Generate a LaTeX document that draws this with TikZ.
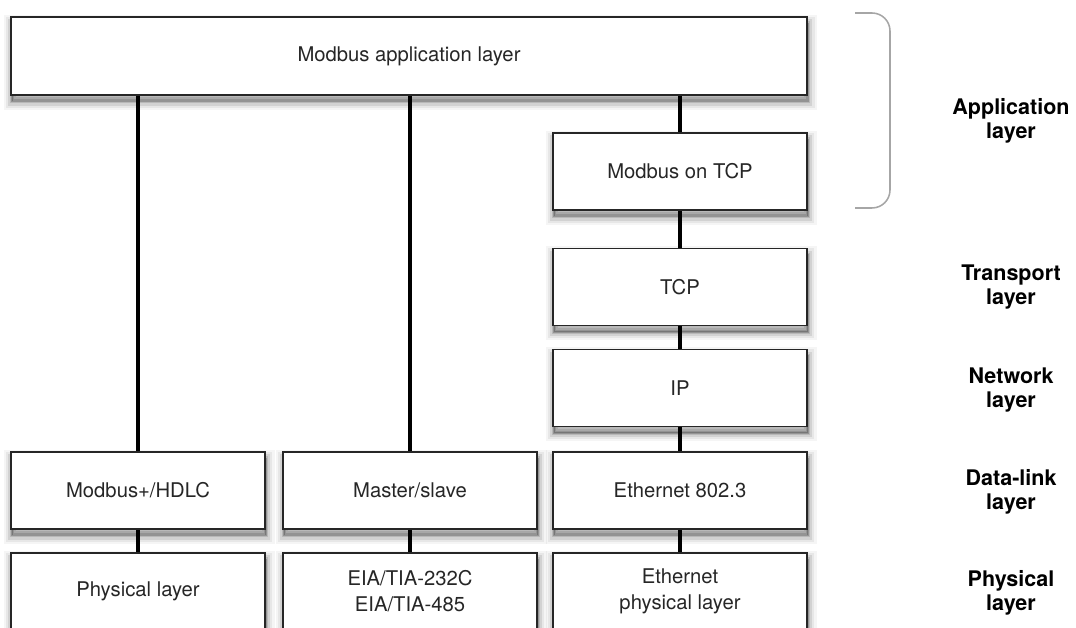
\documentclass[tikz,border=0pt]{standalone}
\usepackage{fontspec}
\setmainfont{TeX Gyre Heros}

\tikzset{
  softshadow/.style={
    preaction={draw=black, line width=12pt, opacity=0.04, transform canvas={xshift=0.8pt, yshift=-4.5pt}},
    preaction={draw=black, line width=9pt, opacity=0.06, transform canvas={xshift=0.8pt, yshift=-4.5pt}},
    preaction={draw=black, line width=6pt, opacity=0.09, transform canvas={xshift=0.8pt, yshift=-4.5pt}},
    preaction={draw=black, line width=3pt, opacity=0.12, transform canvas={xshift=0.8pt, yshift=-4.5pt}},
    preaction={draw=black, line width=1pt, fill=black, opacity=0.2, transform canvas={xshift=0.8pt, yshift=-4.5pt}}},
  layerbox/.style={softshadow, draw=black!85, line width=1.3pt, fill=white,
    minimum width=6.35cm, minimum height=1.925cm, align=center,
    font=\fontsize{14.4}{18.5}\selectfont, text=black!85},
  link/.style={line width=2.8pt, black},
  osilabel/.style={align=center, font=\fontsize{15.3}{17}\selectfont\bfseries},
}

\begin{document}
\begin{tikzpicture}[x=0.025cm, y=-0.025cm]
  % page size of the reference
  \useasboundingbox (0,0) rectangle (1076,628);
  \clip (0,0) rectangle (1076,628);

  % Modbus stack boxes
  \node[layerbox, minimum width=19.9cm, minimum height=1.95cm] (app) at (409,56) {Modbus application layer};
  \node[layerbox] (mtcp) at (680,171.5) {Modbus on TCP};
  \node[layerbox] (tcp) at (680,287) {TCP};
  \node[layerbox] (ip) at (680,388) {IP};
  \node[layerbox] (hdlc) at (138,490.5) {Modbus+/HDLC};
  \node[layerbox] (ms) at (410,490.5) {Master/slave};
  \node[layerbox] (eth) at (680,490.5) {Ethernet 802.3};
  \node[layerbox] (phy) at (138,591.5) {Physical layer};
  \node[layerbox] (eia) at (410,591.5) {EIA/TIA-232C\\EIA/TIA-485};
  \node[layerbox] (ethphy) at (680,591.5) {Ethernet\\physical layer};

  % vertical links
  \draw[link] (app.south -| hdlc.north) -- (hdlc.north);
  \draw[link] (app.south -| ms.north) -- (ms.north);
  \draw[link] (app.south -| mtcp.north) -- (mtcp.north);
  \draw[link] (mtcp.south) -- (tcp.north);
  \draw[link] (tcp.south) -- (ip.north);
  \draw[link] (ip.south) -- (eth.north);
  \draw[link] (hdlc.south) -- (phy.north);
  \draw[link] (ms.south) -- (eia.north);
  \draw[link] (eth.south) -- (ethphy.north);

  % brace round the application layer
  \draw[gray!70, line width=1.1pt, rounded corners=0.45cm] (855,13) -- (890,13) -- (890,208) -- (855,208);

  % OSI layer names
  \node[osilabel] (lapp) at (1011,121) {Application\\layer};
  \node[osilabel] (ltr) at (1011,287) {Transport\\layer};
  \node[osilabel] (lnet) at (1011,390) {Network\\layer};
  \node[osilabel] (ldl) at (1011,492) {Data-link\\layer};
  \node[osilabel] (lphy) at (1011,593) {Physical\\layer};
\end{tikzpicture}
\end{document}
